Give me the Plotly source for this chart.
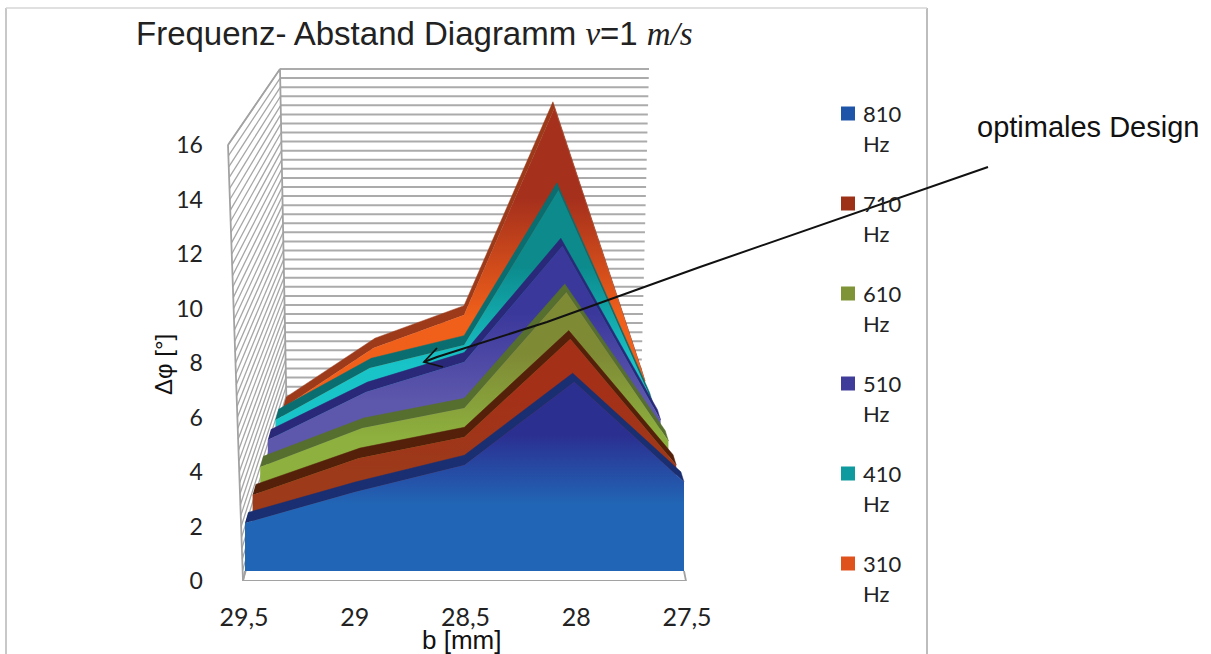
import numpy as np
import plotly.graph_objects as go

W, H = 1211, 654

# ---------- data ----------
b_labels = ["29,5", "29", "28,5", "28", "27,5"]
y_ticks = [0, 2, 4, 6, 8, 10, 12, 14, 16]

hz_810 = [1.76, 2.90, 3.89, 6.94, 3.27]
hz_710 = [1.82, 3.22, 4.02, 7.74, 2.96]
hz_610 = [1.89, 3.42, 4.20, 8.76, 2.91]
hz_510 = [1.91, 3.87, 5.09, 9.81, 2.73]
hz_410 = [1.65, 3.84, 4.81, 11.36, 2.36]
hz_310 = [1.01, 3.64, 5.09, 14.18, 2.19]

series_names = ["810", "710", "610", "510", "410", "310"]
series_values = [hz_810, hz_710, hz_610, hz_510, hz_410, hz_310]

# styles: face gradient (top colour, bottom colour), top band, legend swatch
face_top = ["#2B2F90", "#A43018", "#7F8A35", "#3B389C", "#0C8A8C", "#A5301C"]
face_bottom = ["#2166B6", "#9C3A1A", "#8DB03E", "#5E58AC", "#18C4C8", "#F0601A"]
band_col = ["#1A2F72", "#54200A", "#566E2E", "#2A2878", "#0A6E70", "#9C3A1A"]
swatch_col = ["#1F55A8", "#9C3118", "#7F9437", "#3F3C9A", "#0E9A9E", "#E0521C"]

# ---------- axis geometry ----------
AX_L, AX_R = 244.0, 687.0      # pixel position of index 0 and 4 tick labels
AX_B, AX_T = 581.0, 145.0      # pixel position of 0 and 16 on the value axis
UX = (AX_R - AX_L) / 4
UY = (AX_B - AX_T) / 16
X_MIN, X_MAX = -0.2, 6.5
Y_MAX = 20.0


def to_x(px):
    return (np.asarray(px, float) - AX_L) / UX


def to_y(py):
    return (AX_B - np.asarray(py, float)) / UY


def project(idx, val, depth):
    """Perspective of an area-series point; depth counts series from the front."""
    left = 245 + 7.6 * depth
    right = 684 - 7.8 * depth
    base = 571 - 28 * depth
    scale = 27.25 * (1 - 0.0328 * depth)
    px = left + np.asarray(idx, float) / 4 * (right - left)
    py = base - np.asarray(val, float) * scale
    return to_x(px), to_y(py)


fig = go.Figure()

# ---------- back and side walls ----------
GRID_N = 40
gx, gy, sx, sy = [], [], [], []
for k in range(GRID_N + 1):
    t = k / GRID_N
    bl = 280 + 7 * t
    br = 649 - 9 * t
    by = 69 + 363 * t
    gx += [bl, br, None]
    gy += [by, by, None]
    fl = 228 + 15 * t
    fy = 145 + 436 * t
    sx += [fl, bl, None]
    sy += [fy, by, None]


def conv(xs, ys):
    ox = [None if v is None else float(to_x(v)) for v in xs]
    oy = [None if v is None else float(to_y(v)) for v in ys]
    return ox, oy


for xs, ys, w, col in [(gx, gy, 2.0, "#ABABAB"), (sx, sy, 1.3, "#A6A6A6")]:
    ox, oy = conv(xs, ys)
    fig.add_trace(go.Scatter(x=ox, y=oy, mode="lines", line=dict(color=col, width=w),
                             hoverinfo="skip", showlegend=False, cliponaxis=False))
# wall frame and floor
ox, oy = conv([228, 243, 686, 684, None, 243, 245, None, 228, 280, 287],
              [145, 581, 581, 571, None, 581, 571, None, 145, 69, 432])
fig.add_trace(go.Scatter(x=ox, y=oy, mode="lines", line=dict(color="#A2A2A2", width=1.8),
                         hoverinfo="skip", showlegend=False, cliponaxis=False))

# ---------- area series, back to front ----------
idx = np.arange(5)
BAND = 0.4
for i in range(5, -1, -1):
    vals = np.array(series_values[i])
    fx, fy = project(idx, vals, i)
    bx, by = project(idx, vals, i + BAND)
    fig.add_trace(go.Scatter(
        x=np.r_[fx, bx[::-1]], y=np.r_[fy, by[::-1]], mode="lines", fill="toself",
        fillcolor=band_col[i], line=dict(color=band_col[i], width=0.5),
        hoverinfo="skip", showlegend=False, cliponaxis=False))
    zx, zy = project(idx, np.zeros(5), i)
    fig.add_trace(go.Scatter(
        x=np.r_[fx, zx[::-1]], y=np.r_[fy, zy[::-1]], mode="lines", fill="toself",
        line=dict(color="rgba(0,0,0,0)", width=0),
        fillgradient=dict(type="vertical",
                          colorscale=[[0, face_bottom[i]], [0.35, face_bottom[i]],
                                      [0.72, face_top[i]], [1, face_top[i]]]),
        hoverinfo="skip", showlegend=False, cliponaxis=False))

# ---------- legend entries, swatch beside the first text line ----------
LEG_X, LEG_TEXT_X, LEG_Y0, LEG_STEP, LEG_LINE = 848, 861, 113.5, 90, 30
leg_font = dict(family="Lato", size=22, color="#222222")
legend_notes = []
for i, n in enumerate(series_names):
    y_px = LEG_Y0 + i * LEG_STEP
    fig.add_trace(go.Scatter(
        x=[float(to_x(LEG_X))], y=[float(to_y(y_px))], mode="markers", name=f"{n} Hz",
        marker=dict(symbol="square", size=14, color=swatch_col[i], line=dict(width=0)),
        hoverinfo="skip", showlegend=False, cliponaxis=False))
    legend_notes.append(dict(x=LEG_TEXT_X/W, y=1-y_px/H, xref="paper", yref="paper", xanchor="left",
                             yanchor="middle", showarrow=False, font=leg_font, text=n))
    legend_notes.append(dict(x=LEG_TEXT_X/W, y=1-(y_px+LEG_LINE)/H, xref="paper", yref="paper", xanchor="left",
                             yanchor="middle", showarrow=False, font=leg_font, text="Hz"))


def pth(points):
    return "M " + " L ".join(f"{x/W:.5f},{1-y/H:.5f}" for x, y in points)


shapes = [
    dict(type="line", xref="paper", yref="paper", x0=927/W, x1=927/W, y0=0, y1=1-8/H,
         line=dict(color="#BDBDBD", width=2)),
    dict(type="line", xref="paper", yref="paper", x0=6/W, x1=6/W, y0=0, y1=1-8/H,
         line=dict(color="#C8C8C8", width=2)),
    dict(type="line", xref="paper", yref="paper", x0=6/W, x1=927/W, y0=1-8/H, y1=1-8/H,
         line=dict(color="#D6D6D6", width=1.5)),
    dict(type="path", xref="paper", yref="paper",
         path=pth([(988, 167), (700, 267), (547, 322), (437, 357), (424, 362)]),
         line=dict(color="#111111", width=2)),
    dict(type="path", xref="paper", yref="paper",
         path=pth([(437, 348), (424, 362), (443, 367)]),
         line=dict(color="#111111", width=1.8)),
]

annotations = [
    dict(x=134/W, y=1-33/H, xref="paper", yref="paper", xanchor="left", yanchor="middle",
         showarrow=False, font=dict(family="Liberation Sans", size=33, color="#222222"),
         text='Frequenz- Abstand Diagramm <i><span style="font-family:Liberation Serif">v</span></i>=1 '
              '<i><span style="font-family:Liberation Serif">m/s</span></i>'),
    dict(x=975/W, y=1-127/H, xref="paper", yref="paper", xanchor="left", yanchor="middle",
         showarrow=False, font=dict(family="Liberation Sans", size=29, color="#111111"),
         text="optimales Design"),
    dict(x=462/W, y=1-640/H, xref="paper", yref="paper", xanchor="center", yanchor="middle",
         showarrow=False, font=dict(family="Liberation Sans", size=26, color="#111111"),
         text="b [mm]"),
    dict(x=163/W, y=1-365/H, xref="paper", yref="paper", xanchor="center", yanchor="middle",
         showarrow=False, textangle=-90, font=dict(family="Liberation Sans", size=24, color="#111111"),
         text="Δφ [°]"),
] + legend_notes

fig.update_layout(
    width=W, height=H, margin=dict(l=0, r=0, t=0, b=0, pad=0),
    paper_bgcolor="white", plot_bgcolor="rgba(0,0,0,0)",
    shapes=shapes, annotations=annotations, showlegend=False,
    xaxis=dict(automargin=False, domain=[(AX_L + X_MIN*UX)/W, (AX_L + X_MAX*UX)/W], range=[X_MIN, X_MAX],
               tickmode="array", tickvals=list(range(5)),
               ticktext=b_labels, showgrid=False, zeroline=False, showline=False, ticks="",
               ticklabelstandoff=19, tickfont=dict(family="Lato", size=25, color="#222222")),
    yaxis=dict(automargin=False, domain=[1-AX_B/H, 1-(AX_B - Y_MAX*UY)/H], range=[0, Y_MAX],
               tickmode="array", tickvals=y_ticks,
               showgrid=False, zeroline=False, showline=False, ticks="",
               ticklabelstandoff=18, tickfont=dict(family="Lato", size=23, color="#222222")),
)

fig.write_html("out.html", config=dict(displayModeBar=False),
               post_script="document.body.style.margin='0';document.body.style.overflow='hidden';")
